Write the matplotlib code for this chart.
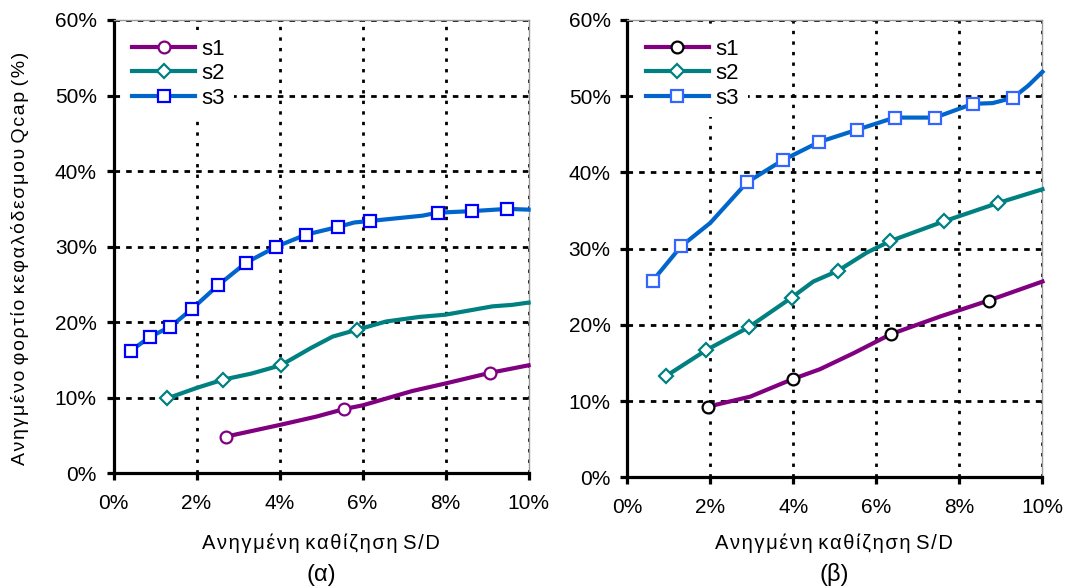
import matplotlib.pyplot as plt
from matplotlib.ticker import FuncFormatter

plt.rcParams['font.family'] = ['Liberation Sans', 'DejaVu Sans']

# ---- data (S/D %, Qcap %) ----
# panel (α)
a_s1_x = [2.70, 4.0, 4.88, 5.55, 6.0, 7.2, 8.0, 9.07, 10.0]
a_s1_y = [4.85, 6.4, 7.5, 8.5, 9.0, 10.9, 11.9, 13.3, 14.3]
a_s1_mk = [0, 3, 7]

a_s2_x = [1.30, 2.0, 2.64, 3.32, 4.03, 4.76, 5.28, 5.86, 6.57, 7.37, 8.0, 9.13, 9.61, 10.0]
a_s2_y = [9.93, 11.3, 12.4, 13.2, 14.3, 16.6, 18.1, 19.0, 20.1, 20.7, 21.0, 22.1, 22.3, 22.6]
a_s2_mk = [0, 2, 4, 7]

a_s3_x = [0.41, 0.89, 1.37, 1.90, 2.52, 3.20, 3.92, 4.64, 5.40, 5.8, 6.18, 7.44, 7.81, 8.63, 9.49, 10.0]
a_s3_y = [16.2, 18.1, 19.4, 21.8, 24.9, 27.9, 30.0, 31.6, 32.6, 33.2, 33.4, 34.1, 34.5, 34.7, 35.0, 34.9]
a_s3_mk = [0, 1, 2, 3, 4, 5, 6, 7, 8, 10, 12, 13, 14]

# panel (β)
b_s1_x = [1.95, 2.96, 3.98, 4.64, 5.45, 6.35, 7.53, 8.70, 10.0]
b_s1_y = [9.3, 10.6, 12.9, 14.2, 16.3, 18.8, 21.1, 23.2, 25.7]
b_s1_mk = [0, 2, 5, 7]

b_s2_x = [0.93, 1.90, 2.92, 3.96, 4.48, 5.07, 5.77, 6.33, 7.63, 8.93, 10.0]
b_s2_y = [13.3, 16.7, 19.7, 23.6, 25.7, 27.1, 29.5, 31.0, 33.6, 36.0, 37.8]
b_s2_mk = [0, 1, 2, 3, 5, 7, 8, 9]

b_s3_x = [0.61, 1.29, 2.0, 2.88, 3.74, 4.62, 5.53, 6.44, 7.41, 8.32, 8.8, 9.29, 9.66, 10.0]
b_s3_y = [25.8, 30.3, 33.4, 38.7, 41.6, 44.0, 45.6, 47.2, 47.2, 49.0, 49.1, 49.8, 51.4, 53.2]
b_s3_mk = [0, 1, 3, 4, 5, 6, 7, 8, 9, 11]

labels = ['s1', 's2', 's3']
x_ticks = [0, 2, 4, 6, 8, 10]
y_ticks = [0, 10, 20, 30, 40, 50, 60]

x_title = 'Ανηγμένη καθίζηση S/D'
y_title = 'Ανηγμένο φορτίο κεφαλόδεσμου Qcap (%)'

purple = '#800080'
teal = '#008080'
blue = '#0066CC'


def spaced(s):
    # mimic the wide letter spacing of the original with hair spaces
    return ' '.join('\u200a'.join(w) for w in s.split(' '))


fig = plt.figure(figsize=(10.67, 5.88), dpi=100)
ax1 = fig.add_axes([0.1064, 0.195, 0.389, 0.771])
ax2 = fig.add_axes([0.588, 0.188, 0.389, 0.778])


def style_axes(ax, caption, xc):
    ax.set_xlim(0, 10)
    ax.set_ylim(0, 60)
    ax.set_xticks(x_ticks)
    ax.set_yticks(y_ticks)
    fmt = FuncFormatter(lambda v, p: f'{v:.0f}%')
    ax.xaxis.set_major_formatter(fmt)
    ax.yaxis.set_major_formatter(fmt)
    for v in x_ticks[1:]:
        ax.axvline(v, color='black', lw=2, ls=(0, (1.2, 2.6)), zorder=1)
    for v in y_ticks[1:]:
        ax.axhline(v, color='black', lw=2, ls=(0, (2.0, 2.2)), zorder=1)
    for side in ['left', 'bottom']:
        ax.spines[side].set_linewidth(2.3)
        ax.spines[side].set_color('black')
    for side in ['top', 'right']:
        ax.spines[side].set_linewidth(1.0)
        ax.spines[side].set_color('#999999')
    ax.tick_params(axis='both', direction='out', length=5, width=2.3,
                   labelsize=15)
    ax.tick_params(axis='x', pad=10)
    ax.tick_params(axis='y', pad=7)
    fig.text(xc, 1 - 543 / 588, spaced(x_title), ha='center', va='center', fontsize=14.5)
    fig.text(xc, 1 - 575 / 588, caption, ha='center', va='center', fontsize=17)


def draw(ax, data, edges):
    colors = [purple, teal, blue]
    markers = ['o', 'D', 's']
    sizes = [8.5, 7, 9]
    for (x, y, mk), c, m, ms, ec, lab in zip(data, colors, markers, sizes, edges, labels):
        ax.plot(x, y, color=c, lw=3, marker=m, markevery=mk, ms=ms,
                mfc='white', mec=ec, mew=1.6, label=lab, zorder=3, clip_on=False)
    leg = ax.legend(loc='upper left', bbox_to_anchor=(0.0, 1.0), fontsize=16,
                    frameon=True, framealpha=1, edgecolor='none', fancybox=False,
                    handlelength=2.8, handletextpad=0.3, labelspacing=0.15,
                    borderpad=0.4, borderaxespad=0.45)
    leg.set_zorder(5)


draw(ax1, [(a_s1_x, a_s1_y, a_s1_mk), (a_s2_x, a_s2_y, a_s2_mk), (a_s3_x, a_s3_y, a_s3_mk)],
     [purple, teal, '#0000FF'])
draw(ax2, [(b_s1_x, b_s1_y, b_s1_mk), (b_s2_x, b_s2_y, b_s2_mk), (b_s3_x, b_s3_y, b_s3_mk)],
     ['black', teal, '#3366FF'])

style_axes(ax1, '(α)', 321 / 1067)
style_axes(ax2, '(β)', 834 / 1067)
fig.text(20 / 1067, 1 - 258 / 588, spaced(y_title), rotation=90, ha='center', va='center',
         fontsize=14)

fig.savefig('out.png', dpi=100)
